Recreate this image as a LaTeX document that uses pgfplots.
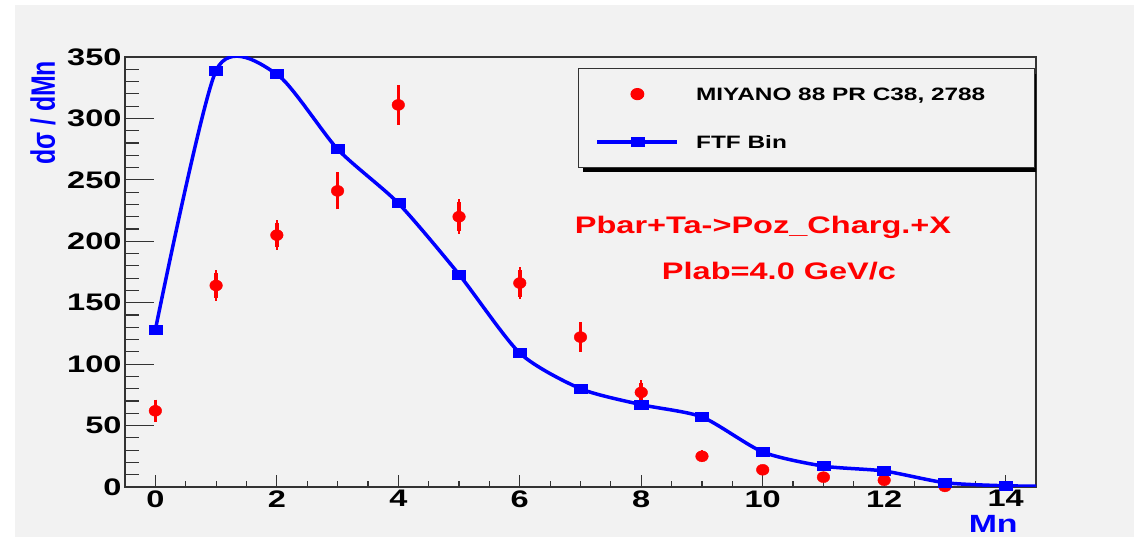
\documentclass[border=0pt]{standalone}
\usepackage{pgfplots}
\pgfplotsset{compat=1.18}
\usepackage{pgfplotstable}
\usepackage{fontspec}
\setmainfont{Liberation Sans}[FakeStretch=1.36]
\newfontfamily\plainfont{Liberation Sans}
\definecolor{bg}{HTML}{F2F2F2}
\definecolor{rblue}{RGB}{0,0,255}
\definecolor{rred}{RGB}{255,0,0}

\pgfplotstableread{
x y
0 128
1 339
2 336
3 275
4 231
5 173
6 109
7 80
8 67
9 57
10 28.5
11 17
12 13
13 3.5
14 1
15 0.5
}\ftf

\pgfplotstableread{
x y e
0 62 7
1 164 10.5
2 205 10
3 241 13
4 311 14
5 220 12
6 166 11
7 122 10
8 77 8
9 25 3
10 14 2
11 8 1.5
12 5.5 1.5
13 0.5 1
}\miy

\begin{document}
\begin{tikzpicture}[x=1bp,y=1bp]
\fill[white] (0,0) rectangle (1134,537);
\fill[bg] (15,0) rectangle (1134,532);
\useasboundingbox (0,0) rectangle (1134,537);
\pgfplotsset{rootax/.style={
  at={(125bp,50bp)}, anchor=south west, scale only axis,
  width=911bp, height=430bp,
  xmin=-0.5, xmax=14.5, ymin=0, ymax=350,
  axis line style={draw=black!80, line width=1.2bp},
  tick align=inside,
  tick style={draw=black!80, line width=1.2bp},
  /pgf/number format/assume math mode=true,
  ticklabel style={font=\bfseries\fontsize{24}{24}\selectfont},
}}
% axis for y ticks
\begin{axis}[rootax,
  xtick=\empty,
  ytick={0,50,...,350}, minor y tick num=4, ytick pos=left,
  major tick length=29bp, minor tick length=14bp,
]
\end{axis}
% axis for x ticks and data
\begin{axis}[rootax,
  ytick=\empty,
  xtick={0,2,...,14}, minor x tick num=3, xtick pos=bottom,
  major tick length=12bp, minor tick length=6bp,
  xlabel={Mn},
  xlabel style={font=\bfseries\fontsize{25}{25}\selectfont, text=rblue,
    at={(axis description cs:0.953,0)}, anchor=center, yshift=-37bp},
  ylabel={dσ / dMn},
  ylabel style={font=\plainfont\bfseries\fontsize{25}{25}\selectfont, text=rblue,
    at={(axis description cs:-0.090,0.870)}, anchor=center, yscale=1.36},
  legend style={at={(axis description cs:0.4973,0.9744)}, anchor=north west,
    fill=bg, draw=black!80, line width=1.2bp,
    font=\bfseries\fontsize{18}{20}\selectfont,
    inner xsep=17bp, inner ysep=19bp, row sep=35bp, column sep=17bp,
    nodes={inner xsep=0bp, inner ysep=0bp, text height=13bp, text depth=0bp}},
  legend cell align=left,
]
% legend shadow
\fill[black] (axis description cs:0.5027,0.7326) rectangle (axis description cs:1.0033,0.9605);
\addplot[only marks, mark=*, color=rred, mark size=5.5bp,
  mark options={xscale=1.15, fill=rred, draw=rred},
  legend image code/.code={\pgfpathmoveto{\pgfqpoint{0bp}{0bp}}\pgfpathlineto{\pgfqpoint{80bp}{0bp}}\pgfusepath{}\draw[only marks] plot coordinates {(40bp,0bp)};},
  error bars/.cd, y dir=both, y explicit,
  error bar style={line width=3.5bp, rred},
  error mark options={rred, mark size=2.5bp, line width=2.5bp}]
  table[x=x, y=y, y error=e] {\miy};
\addlegendentry{MIYANO 88 PR C38, 2788\hspace*{32bp}}
\addplot[color=rblue, line width=3.5bp, smooth, tension=0.42,
  mark=square*, mark size=4.5bp, mark indices={1,...,15},
  mark options={xscale=1.45, fill=rblue, draw=rblue, line width=0.5bp},
  legend image code/.code={\draw[rblue, line width=3.5bp] (0bp,0bp) -- (80bp,0bp); \draw[only marks, mark indices={1}] plot coordinates {(40bp,0bp)};}]
  table[x=x, y=y] {\ftf};
\addlegendentry{FTF Bin}
\node[text=rred, font=\bfseries\fontsize{24}{24}\selectfont] at (axis description cs:0.7003,0.6047) {Pbar+Ta->Poz\_Charg.+X};
\node[text=rred, font=\bfseries\fontsize{24}{24}\selectfont] at (axis description cs:0.7179,0.5023) {Plab=4.0 GeV/c};
\end{axis}
\end{tikzpicture}
\end{document}
